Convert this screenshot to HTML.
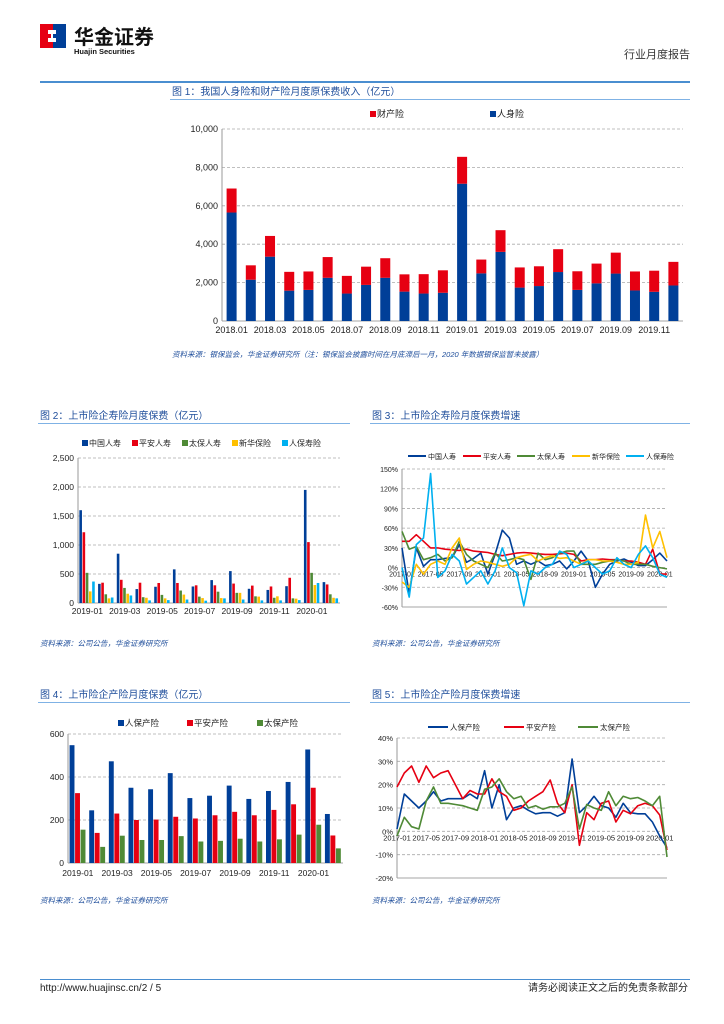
<!DOCTYPE html>
<html><head><meta charset="utf-8">
<style>
body{margin:0;background:#fff;}
svg{display:block;font-family:"Liberation Sans","Noto Sans CJK SC",sans-serif;}
</style></head>
<body>
<svg id="page" width="724" height="1024" viewBox="0 0 724 1024" xmlns="http://www.w3.org/2000/svg">
  <g>
    <rect x="40" y="24" width="13" height="24" fill="#e60012"/>
    <rect x="53" y="24" width="13" height="24" fill="#003f98"/>
    <path d="M48 30 h8 v4 h-3 v4 h3 v4 h-8 v-4 h3 v-4 h-3z" fill="#fff"/>
    <text x="74" y="44" font-size="20" font-weight="bold" fill="#111">华金证券</text>
    <text x="74" y="54" font-size="7.5" font-weight="bold" fill="#111">Huajin Securities</text>
    <text x="690" y="58" font-size="11" text-anchor="end" fill="#333">行业月度报告</text>
    <rect x="40" y="81" width="650" height="2" fill="#4a8ed0"/>
  </g>
  <g font-size="10" fill="#1f4e9b">
    <text x="172" y="95">图 1：我国人身险和财产险月度原保费收入（亿元）</text>
    <text x="40" y="419">图 2：上市险企寿险月度保费（亿元）</text>
    <text x="372" y="419">图 3：上市险企寿险月度保费增速</text>
    <text x="40" y="698">图 4：上市险企产险月度保费（亿元）</text>
    <text x="372" y="698">图 5：上市险企产险月度保费增速</text>
  </g>
  <g fill="#7fb2e5">
    <rect x="170" y="99" width="520" height="1"/>
    <rect x="38" y="423" width="312" height="1"/>
    <rect x="370" y="423" width="320" height="1"/>
    <rect x="38" y="702" width="312" height="1"/>
    <rect x="370" y="702" width="320" height="1"/>
  </g>
  <g font-size="7.5" font-style="italic" fill="#1f4e9b">
    <text x="172" y="357">资料来源：银保监会，华金证券研究所（注：银保监会披露时间在月底滞后一月，2020 年数据银保监暂未披露）</text>
    <text x="40" y="646">资料来源：公司公告，华金证券研究所</text>
    <text x="372" y="646">资料来源：公司公告，华金证券研究所</text>
    <text x="40" y="903">资料来源：公司公告，华金证券研究所</text>
    <text x="372" y="903">资料来源：公司公告，华金证券研究所</text>
  </g>
  <g>
    <rect x="40" y="979" width="650" height="1" fill="#4a8ed0"/>
    <text x="40" y="991" font-size="10" fill="#222">http://www.huajinsc.cn/2 / 5</text>
    <text x="688" y="991" font-size="10" text-anchor="end" fill="#222">请务必阅读正文之后的免责条款部分</text>
  </g>
  <g id="charts"></g>
</svg>
<script>
// Chart 1 data
const c1Cats = ["2018.01","2018.02","2018.03","2018.04","2018.05","2018.06","2018.07","2018.08","2018.09","2018.10","2018.11","2018.12","2019.01","2019.02","2019.03","2019.04","2019.05","2019.06","2019.07","2019.08","2019.09","2019.10","2019.11","2019.12"];
const c1Life = [5650,2150,3350,1580,1620,2250,1430,1880,2250,1530,1430,1470,7150,2480,3600,1740,1820,2550,1620,1960,2470,1590,1520,1850];
const c1Prop = [1250,750,1080,980,960,1080,920,950,1020,900,1010,1170,1400,720,1130,1050,1030,1190,970,1030,1090,990,1100,1230];
const c1Ticks = [0,2000,4000,6000,8000,10000];
// Chart 2 data
const c2Cats = ["2019-01","2019-02","2019-03","2019-04","2019-05","2019-06","2019-07","2019-08","2019-09","2019-10","2019-11","2019-12","2020-01","2020-02"];
const c2Names = ["中国人寿","平安人寿","太保人寿","新华保险","人保寿险"];
const c2A = [1600,330,850,240,280,580,285,395,550,245,225,290,1950,360];
const c2B = [1220,350,400,350,345,345,305,305,335,300,285,435,1050,320];
const c2C = [520,150,260,100,140,215,110,195,175,115,90,80,520,150];
const c2D = [200,80,160,90,80,145,85,85,175,110,115,75,310,90];
const c2E = [370,95,130,45,50,60,40,80,60,45,45,50,345,80];
const c2Ticks = [0,500,1000,1500,2000,2500];
// Chart 3 data
const c3Labels = ["2017-01","2017-05","2017-09","2018-01","2018-05","2018-09","2019-01","2019-05","2019-09","2020-01"];
const c3Names = ["中国人寿","平安人寿","太保人寿","新华保险","人保寿险"];
const c3A = [30,-40,30,2,12,12,14,15,35,8,14,22,-10,20,57,45,5,10,5,10,3,5,10,-2,10,25,10,-30,-10,5,10,13,8,3,3,12,22,10];
const c3B = [40,40,50,40,30,30,28,27,26,28,25,24,23,20,18,20,22,23,22,21,20,20,21,22,20,10,12,12,13,12,12,10,10,8,5,28,-10,-10];
const c3C = [55,28,32,12,15,20,10,15,40,20,10,5,0,22,10,12,15,12,-18,22,12,15,22,25,25,5,5,5,8,10,12,10,5,5,5,2,0,-2];
const c3D = [-22,-30,5,-10,5,10,5,30,45,-3,5,10,8,5,2,5,15,18,20,10,15,18,14,15,10,5,12,12,10,10,8,5,5,8,80,30,55,15];
const c3E = [0,-45,35,45,143,-15,-5,20,10,-25,-15,-5,-25,-5,30,0,-8,-58,-5,-10,0,5,25,20,0,5,10,0,-10,-5,15,5,0,20,33,15,-10,-15];
const c3Ticks = [-60,-30,0,30,60,90,120,150];
// Chart 4 data
const c4Names = ["人保产险","平安产险","太保产险"];
const c4A = [548,245,473,350,343,418,302,313,360,298,335,377,528,228];
const c4B = [325,140,230,200,202,215,207,222,238,222,247,273,350,128];
const c4C = [155,75,127,107,107,125,100,103,113,100,110,132,178,68];
const c4Ticks = [0,200,400,600];
// Chart 5 data
const c5Names = ["人保产险","平安产险","太保产险"];
const c5A = [1,16,13,10,13,17,13,14,14,14,16,14,26,10,20,5,10,11,9,7.5,8,8,6.5,8,31,8,11,15,11,10,6,12,8,7.5,7.5,4,-2,-7];
const c5B = [19,25,28,21,28,23,25,26,20,14,17.5,16,16,22.5,17,15,9,10,13,15,17,22,12,8,20,-6,8,5,12,13,4,9,7.5,11,12,11,7,-8];
const c5C = [-2,6,2,1,13,19,12,12,11.5,11,10,9,18,19,22.5,17,14,15,10,11,9.5,10.5,10.5,12,19,1,11.5,10,9,17,11,15,14,14.5,13,11,15,-11];
const c5Ticks = [-20,-10,0,10,20,30,40];

const NS="http://www.w3.org/2000/svg";
const root=document.getElementById('charts');
const BLUE="#003f98",RED="#e60012",GREEN="#4f8a36",YEL="#ffc000",CYAN="#00b0f0";
function mk(tag,attrs,parent){const e=document.createElementNS(NS,tag);for(const k in attrs)e.setAttribute(k,attrs[k]);(parent||root).appendChild(e);return e;}
function txt(x,y,s,size,anchor,parent){const t=mk('text',{x:x,y:y,'font-size':size,'text-anchor':anchor||'start',fill:'#222'},parent);t.textContent=s;return t;}
function fmt(v){return v.toLocaleString('en-US');}

function yAxis(g,L,R,y,ticks,labelFn,size){
  ticks.forEach(v=>{
    const yy=y(v);
    const gl=mk('line',{x1:L,x2:R,y1:yy,y2:yy,stroke:v===ticks[0]?'#888':'#aaa','stroke-dasharray':v===ticks[0]?'':'3,2','stroke-width':0.8},g);
    
    
    const t=txt(L-4,yy+3,labelFn(v),size,'end',g);
    
    
  });
  const ax=mk('line',{x1:L,x2:L,y1:y(ticks[ticks.length-1]),y2:y(ticks[0]),stroke:'#999','stroke-width':1},g);
  
  
}
function legendBox(g,x,y,color,label,size){
  const r=mk('rect',{x:x,y:y-6,width:6,height:6,fill:color},g);
  
  
  const t=txt(x+7,y,label,size,'start',g);
  
  
}
function legendLine(g,x,y,color,label,size,len){
  const l=mk('line',{x1:x,x2:x+len,y1:y-3,y2:y-3,stroke:color,'stroke-width':2},g);
  
  
  const t=txt(x+len+2,y,label,size,'start',g);
  
  
}

// ---- Chart 1: stacked bars
(function(){
  const g=mk('g',{});
  
  
  const L=222,R=683,T=129,B=321,max=10000;
  const y=v=>B-(v/max)*(B-T);
  yAxis(g,L,R,y,c1Ticks,fmt,9);
  const n=c1Cats.length,step=(R-L)/n,bw=10;
  c1Cats.forEach((c,i)=>{
    const cx=L+step*(i+0.5);
    const b1=mk('rect',{x:cx-bw/2,y:y(c1Life[i]),width:bw,height:B-y(c1Life[i]),fill:BLUE},g);
    
    
    const top=c1Life[i]+c1Prop[i];
    const b2=mk('rect',{x:cx-bw/2,y:y(top),width:bw,height:y(c1Life[i])-y(top),fill:RED},g);
    
    
    if(i%2===0){const t=txt(cx,333,c,9,'middle',g);
      
      }
  });
  legendBox(g,370,117,RED,"财产险",9);
  legendBox(g,490,117,BLUE,"人身险",9);
})();

// ---- grouped bar helper
function grouped(name,L,R,T,B,max,ticks,series,colors,bw,labelCats,lblY,fs){
  const g=mk('g',{});
  
  
  const y=v=>B-(v/max)*(B-T);
  yAxis(g,L,R,y,ticks,fmt,fs);
  const n=series[0].length,step=(R-L)/n,k=series.length;
  for(let i=0;i<n;i++){
    const x0=L+step*i+(step-bw*k)/2;
    series.forEach((s,j)=>{
      const r=mk('rect',{x:x0+j*bw,y:y(s[i]),width:bw-0.6,height:B-y(s[i]),fill:colors[j]},g);
      
      
    });
    if(i%2===0){const t=txt(L+step*(i+0.5),lblY,labelCats[i],fs,'middle',g);
      
      }
  }
  return g;
}
const g2=grouped('chart2-life-premium',78,340,458,603,2500,c2Ticks,[c2A,c2B,c2C,c2D,c2E],[BLUE,RED,GREEN,YEL,CYAN],3.2,c2Cats,614,8.5);
[82,132,182,232,282].forEach((x,i)=>legendBox(g2,x,446,[BLUE,RED,GREEN,YEL,CYAN][i],c2Names[i],8));
const g4=grouped('chart4-pc-premium',68,343,734,863,600,c4Ticks,[c4A,c4B,c4C],[BLUE,RED,GREEN],5.5,c2Cats,876,8.5);
[118,187,257].forEach((x,i)=>legendBox(g4,x,726,[BLUE,RED,GREEN][i],c4Names[i],8.5));

// ---- line chart helper
function lines(name,L,R,T,B,min,max,ticks,series,colors,labels,every,zeroY,fs){
  const g=mk('g',{});
  
  
  const y=v=>B-((v-min)/(max-min))*(B-T);
  yAxis(g,L,R,y,ticks,v=>v+'%',fs);
  const n=series[0].length,x=i=>L+i*(R-L)/(n-1);
  labels.forEach((s,k)=>{const t=txt(x(k*every),y(0)+(zeroY||9),s,fs,'middle',g);
    
    });
  series.forEach((s,j)=>{
    const p=mk('polyline',{points:s.map((v,i)=>x(i).toFixed(1)+','+y(v).toFixed(1)).join(' '),fill:'none',stroke:colors[j],'stroke-width':1.6,'stroke-linejoin':'round'},g);
    
    
  });
  return g;
}
const g3=lines('chart3-life-growth',402,667,469,607,-60,150,c3Ticks,[c3A,c3B,c3C,c3D,c3E],[BLUE,RED,GREEN,YEL,CYAN],c3Labels,4,9,7);
[408,463,517,572,626].forEach((x,i)=>legendLine(g3,x,459,[BLUE,RED,GREEN,YEL,CYAN][i],c3Names[i],7,18));
const g5=lines('chart5-pc-growth',397,667,738,878,-20,40,c5Ticks,[c5A,c5B,c5C],[BLUE,RED,GREEN],c3Labels,4,9,7.5);
[428,504,578].forEach((x,i)=>legendLine(g5,x,730,[BLUE,RED,GREEN][i],c5Names[i],7.5,20));
</script>
</body></html>
